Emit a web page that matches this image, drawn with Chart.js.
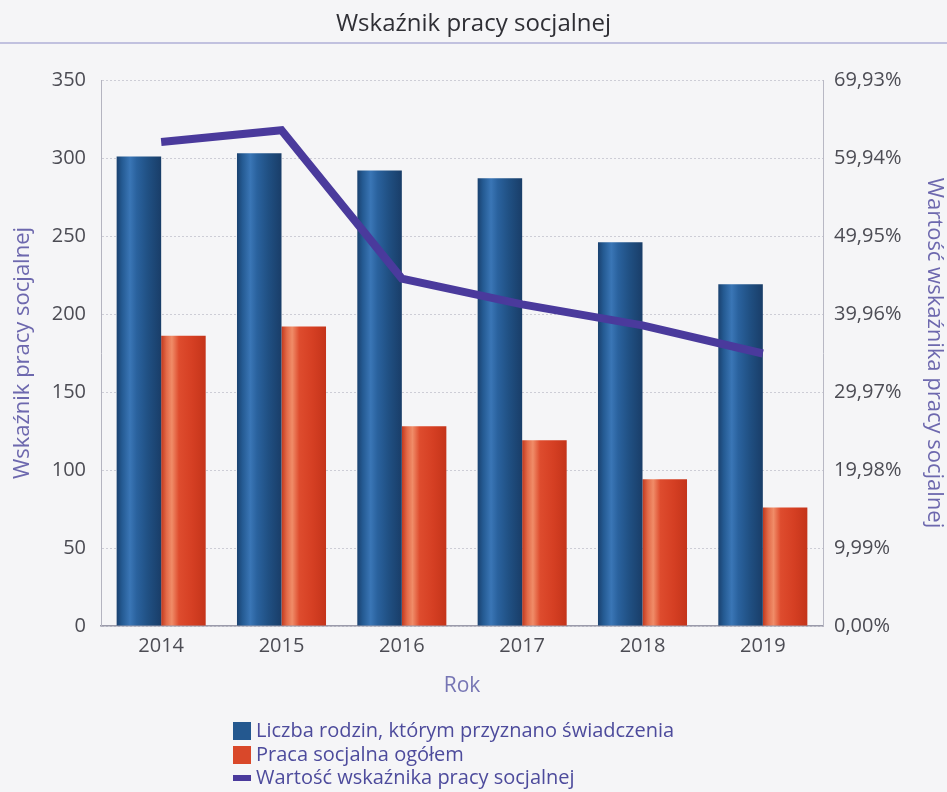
<!DOCTYPE html>
<html lang="pl">
<head>
<meta charset="utf-8">
<title>Wskaźnik pracy socjalnej</title>
<script src="https://cdn.jsdelivr.net/npm/chart.js@4.4.1/dist/chart.umd.min.js"></script>
<style>
  html, body { margin: 0; padding: 0; background: #f5f5f7; }
  #wrap { width: 947px; height: 792px; position: relative; }
  canvas { display: block; }
</style>
</head>
<body>
<div id="wrap"><canvas id="c" width="947" height="792"></canvas></div>
<script>
// ---- data ----
const categories = ['2014', '2015', '2016', '2017', '2018', '2019'];
const familiesGranted = [301, 303, 292, 287, 246, 219];
const socialWorkTotal = [186, 192, 128, 119, 94, 76];
const indicatorValue = [62.0, 63.5, 44.5, 41.2, 38.5, 34.9];
const leftTicks = [0, 50, 100, 150, 200, 250, 300, 350];
const rightTicks = [0, 9.99, 19.98, 29.97, 39.96, 49.95, 59.94, 69.93];
const seriesLabels = [
  'Liczba rodzin, którym przyznano świadczenia',
  'Praca socjalna ogółem',
  'Wartość wskaźnika pracy socjalnej'
];

const FONT = '"Open Sans", "Noto Sans", sans-serif';
const tickColor = '#4c4c54';
const purpleTitle = '#6d68ae';

function barGradient(stops, fallback) {
  return function (ctx) {
    const el = ctx.element;
    if (!el || !isFinite(el.x) || !isFinite(el.width) || !el.width) return fallback;
    const g = ctx.chart.ctx.createLinearGradient(el.x - el.width / 2, 0, el.x + el.width / 2, 0);
    stops.forEach(s => g.addColorStop(s[0], s[1]));
    return g;
  };
}
const blueStops = [[0, '#1a416f'], [0.12, '#245a92'], [0.3, '#3a76b6'], [0.45, '#2a629e'], [0.7, '#205083'], [1, '#193d68']];
const redStops = [[0, '#c1381d'], [0.12, '#e36b49'], [0.24, '#f08c68'], [0.4, '#de4c2e'], [0.7, '#d53f23'], [1, '#c4341a']];

const bgPlugin = {
  id: 'bg',
  beforeDraw(chart) {
    const ctx = chart.ctx;
    ctx.save();
    ctx.fillStyle = '#f5f5f7';
    ctx.fillRect(0, 0, chart.width, chart.height);
    ctx.fillStyle = 'rgba(180,180,216,0.8)';
    ctx.fillRect(0, 42, chart.width, 2);
    ctx.restore();
  }
};

const legendPlugin = {
  id: 'customLegend',
  afterDraw(chart) {
    const ctx = chart.ctx;
    const rowsY = [731, 755, 778];
    const boxColors = ['#24588f', '#d9482a'];
    ctx.save();
    ctx.font = '20px ' + FONT;
    ctx.textBaseline = 'middle';
    ctx.textAlign = 'left';
    chart.data.datasets.forEach((ds, i) => {
      const y = rowsY[i];
      if (ds.type === 'line') {
        ctx.fillStyle = ds.borderColor;
        ctx.fillRect(233, y - 3, 18, 6);
      } else {
        ctx.fillStyle = boxColors[i];
        ctx.fillRect(233, y - 9, 18, 18);
      }
      ctx.fillStyle = '#4d4b9c';
      ctx.fillText(ds.label, 256, y);
    });
    ctx.restore();
  }
};

const chart = new Chart(document.getElementById('c'), {
  data: {
    labels: categories,
    datasets: [
      {
        type: 'bar',
        label: seriesLabels[0],
        data: familiesGranted,
        yAxisID: 'y',
        backgroundColor: barGradient(blueStops, '#24588f'),
        borderWidth: 0,
        categoryPercentage: 0.74,
        barPercentage: 1.0,
        order: 2
      },
      {
        type: 'bar',
        label: seriesLabels[1],
        data: socialWorkTotal,
        yAxisID: 'y',
        backgroundColor: barGradient(redStops, '#d9482a'),
        borderWidth: 0,
        categoryPercentage: 0.74,
        barPercentage: 1.0,
        order: 2
      },
      {
        type: 'line',
        label: seriesLabels[2],
        data: indicatorValue,
        yAxisID: 'y1',
        borderColor: '#4a3a9c',
        backgroundColor: '#4a3a9c',
        borderWidth: 8,
        pointRadius: 0,
        pointHoverRadius: 0,
        tension: 0,
        borderJoinStyle: 'miter',
        borderCapStyle: 'butt',
        fill: false,
        order: 0
      }
    ]
  },
  options: {
    responsive: false,
    animation: false,
    devicePixelRatio: 1,
    layout: { padding: { left: 0, right: 0, top: 0, bottom: 93 } },
    plugins: {
      legend: { display: false },
      tooltip: { enabled: false },
      title: {
        display: true,
        text: 'Wskaźnik pracy socjalnej',
        color: '#2f2f35',
        font: { family: FONT, size: 24, weight: 'normal', lineHeight: 1.2 },
        padding: { top: 9.6, bottom: 41.6 }
      }
    },
    scales: {
      x: {
        type: 'category',
        offset: true,
        grid: { display: false, drawTicks: false },
        border: { display: true, color: '#9a9aaa', width: 1.5 },
        ticks: { color: tickColor, font: { family: FONT, size: 20 }, padding: 8, maxRotation: 0 },
        title: {
          display: true, text: 'Rok', color: '#7675b4',
          font: { family: FONT, size: 21, lineHeight: 1.2 },
          padding: { top: 0, bottom: 0 }
        },
        afterFit(s) { s.height = 73; }
      },
      y: {
        type: 'linear',
        position: 'left',
        min: 0, max: 350,
        afterBuildTicks(s) { s.ticks = leftTicks.map(v => ({ value: v })); },
        grid: { color: '#cdcdd6', lineWidth: 1, drawTicks: false },
        border: { display: true, color: '#b4b4c0', width: 1, dash: [2, 2] },
        ticks: { color: tickColor, font: { family: FONT, size: 20 }, padding: 15 },
        title: {
          display: true, text: 'Wskaźnik pracy socjalnej', color: purpleTitle,
          font: { family: FONT, size: 22, lineHeight: 1.2 },
          padding: { top: 10, bottom: 0 }
        },
        afterFit(s) { s.width = 101; }
      },
      y1: {
        type: 'linear',
        position: 'right',
        min: 0, max: 69.93,
        afterBuildTicks(s) { s.ticks = rightTicks.map(v => ({ value: v })); },
        grid: { display: false, drawTicks: false },
        border: { display: true, color: '#b8b8c4', width: 1, dash: [2, 2] },
        ticks: {
          color: tickColor, font: { family: FONT, size: 20 }, padding: 11,
          callback: v => v.toFixed(2).replace('.', ',') + '%'
        },
        title: {
          display: true, text: 'Wartość wskaźnika pracy socjalnej', color: purpleTitle,
          font: { family: FONT, size: 22, lineHeight: 1.2 },
          padding: { top: 0, bottom: 0 }
        },
        afterFit(s) { s.width = 124; }
      }
    }
  },
  plugins: [bgPlugin, legendPlugin]
});
chart.update('none');
</script>
</body>
</html>
